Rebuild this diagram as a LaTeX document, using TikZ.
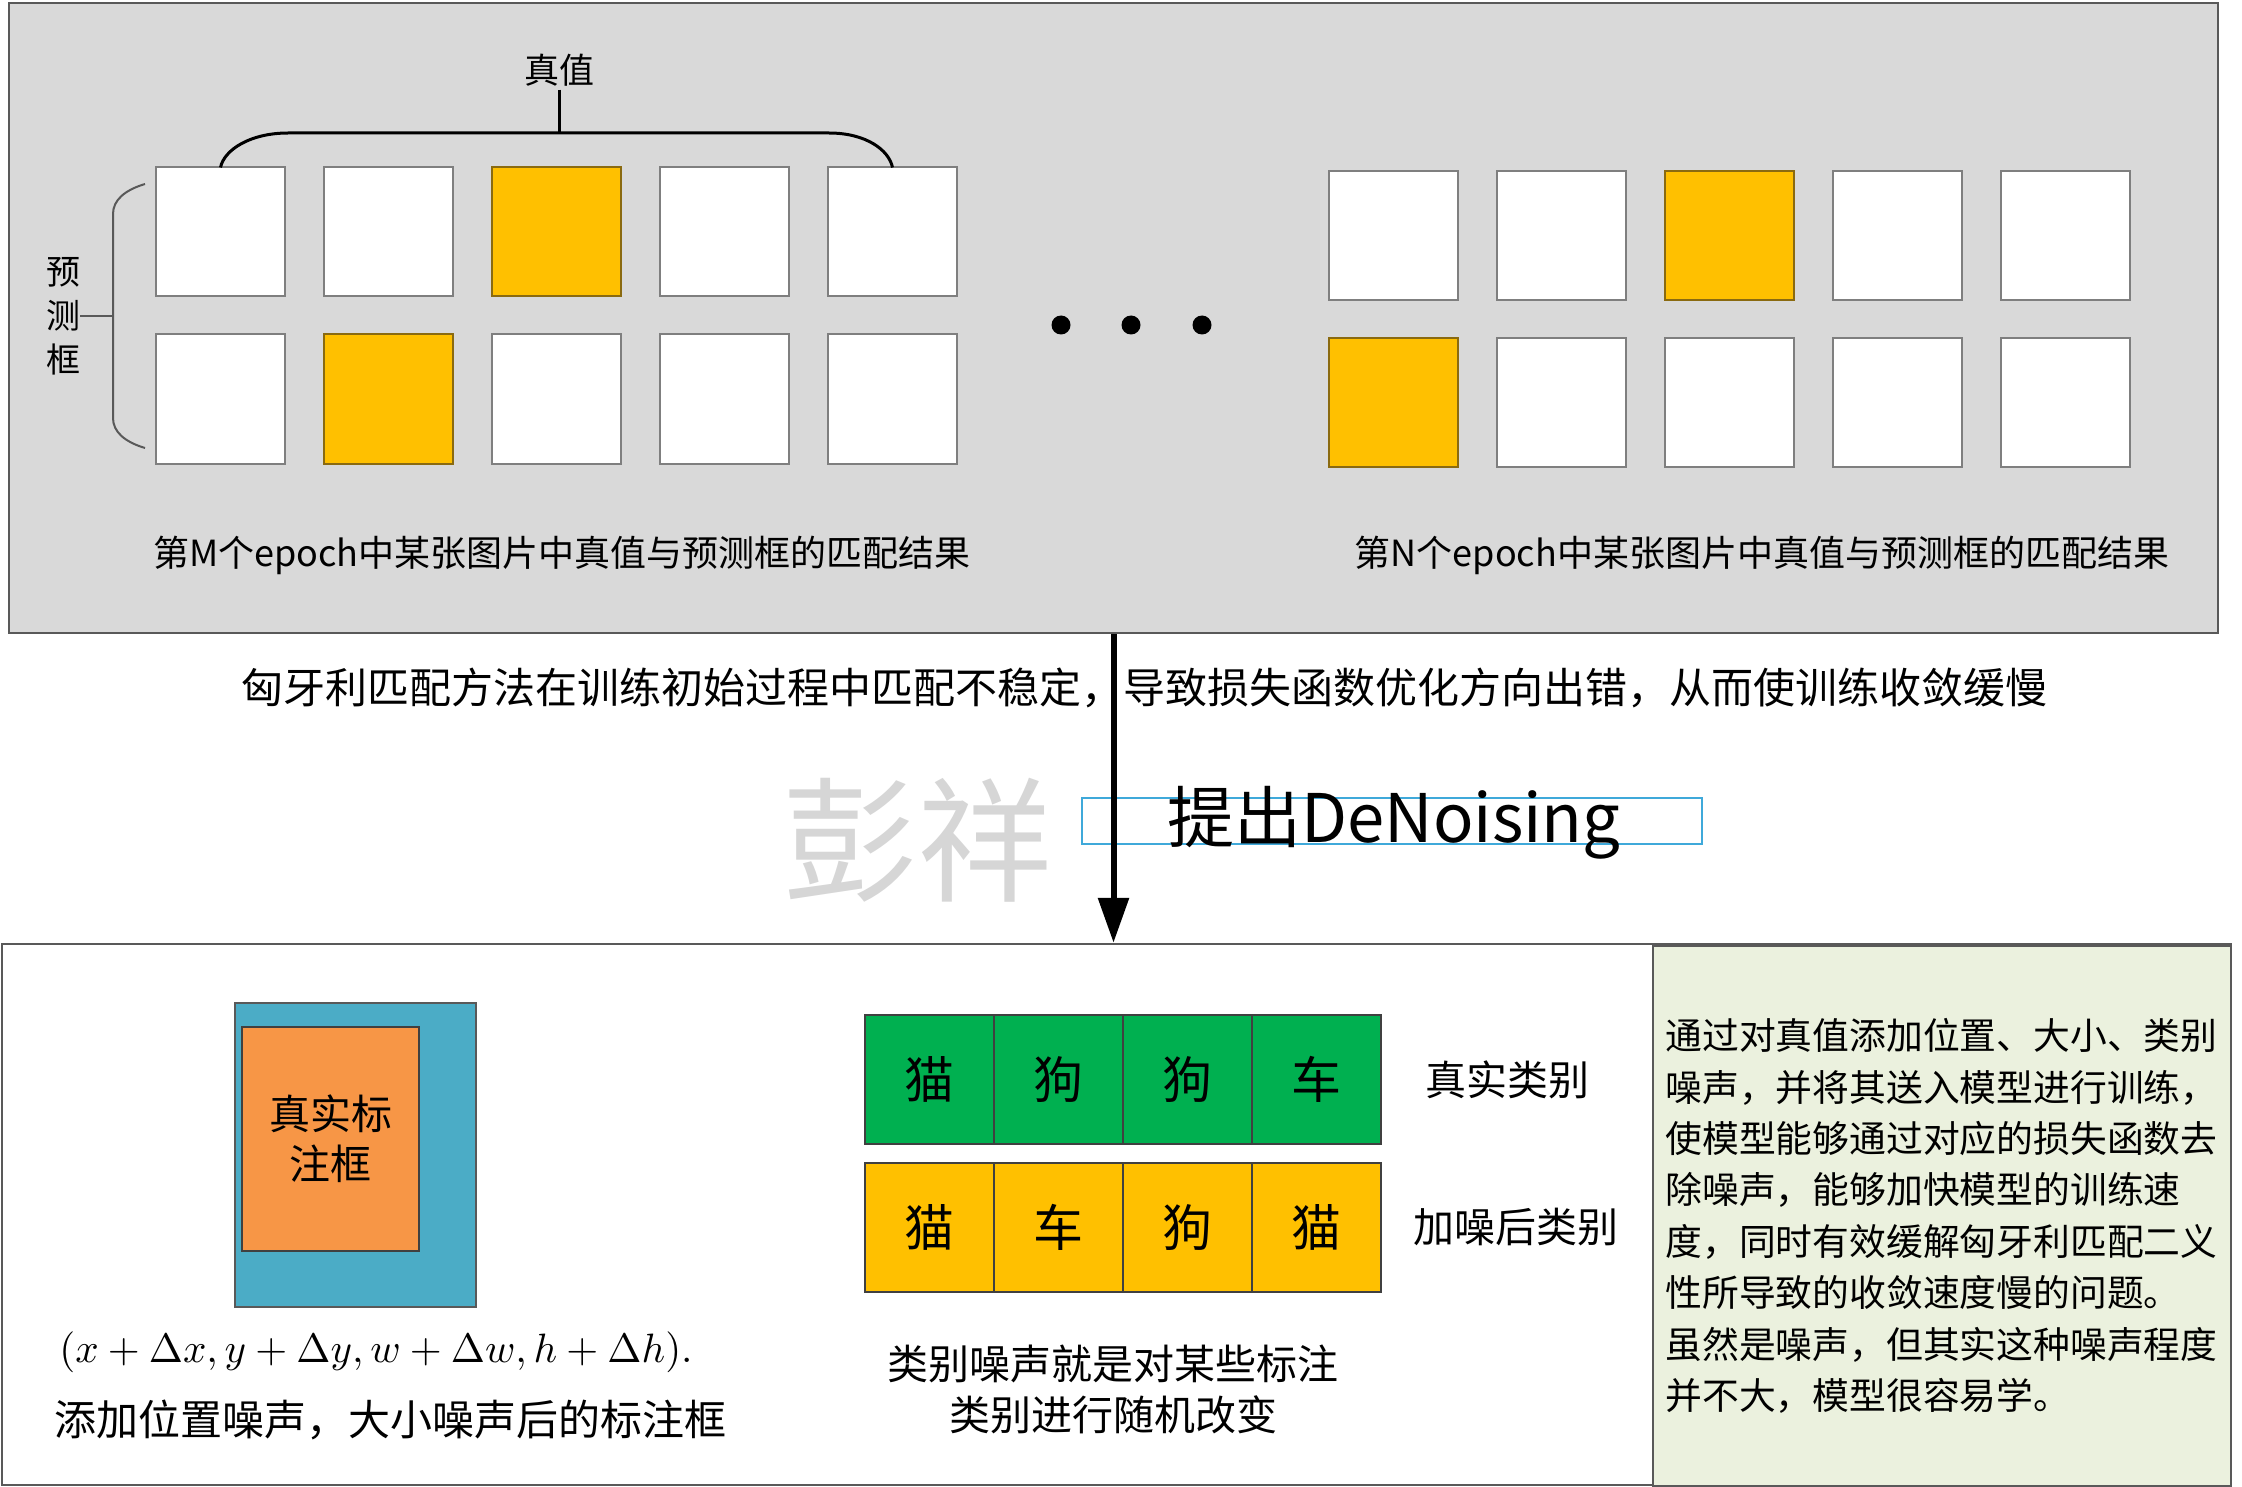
\documentclass[tikz,border=0pt]{standalone}
\usepackage[no-math]{fontspec}
\setmainfont{Noto Sans CJK SC}
\usetikzlibrary{arrows.meta,positioning}
\definecolor{ink}{HTML}{000000}
\definecolor{panelgray}{HTML}{D9D9D9}
\definecolor{edge}{HTML}{595959}
\definecolor{boxedge}{HTML}{7F7F7F}
\definecolor{hitfill}{HTML}{FFC000}
\definecolor{hitedge}{HTML}{8A6A10}
\definecolor{catgreen}{HTML}{00B050}
\definecolor{boxblue}{HTML}{4BACC6}
\definecolor{boxorange}{HTML}{F79646}
\definecolor{notebg}{HTML}{EBF1DE}
\definecolor{cyanline}{HTML}{3FA9DA}
\definecolor{wmgray}{HTML}{D6D6D6}
\newcommand{\setfs}[2]{\fontsize{#1pt}{#2pt}\selectfont}
\tikzset{
  >=Latex,
  every node/.style={text=ink},
  panel/.style={draw=edge,line width=2.5pt,fill=panelgray,inner sep=0pt},
  panelw/.style={panel,fill=white},
  cell/.style={draw=boxedge,line width=2pt,fill=white,inner sep=0pt,outer sep=0pt,minimum width=129pt,minimum height=129pt},
  hit/.style={cell,fill=hitfill,draw=hitedge},
  catcell/.style={draw=black!75,line width=1.5pt,inner sep=0pt,outer sep=0pt,minimum width=129pt,minimum height=129pt,font=\setfs{50}{60}},
  gtcat/.style={catcell,fill=catgreen},
  nzcat/.style={catcell,fill=hitfill},
  dotmark/.style={circle,fill=black,inner sep=0pt,minimum size=19pt},
  caption/.style={font=\setfs{36}{43},inner sep=0pt},
  lbl/.style={font=\setfs{41}{51},inner sep=0pt},
  bracel/.style={draw=black,line width=3pt},
  sidebrace/.style={draw=edge,line width=2pt},
  bigarrow/.style={-{Triangle[length=45pt,width=30pt]},line width=6pt,draw=black},
  propbox/.style={draw=cyanline,line width=2.5pt,inner sep=0pt},
  note/.style={draw=edge,line width=2.5pt,fill=notebg,inner sep=0pt,align=left,font=\setfs{36.8}{51.4}}
}
\begin{document}
\begin{tikzpicture}[x=1pt,y=-1pt,node distance=38pt and 39pt]
  \useasboundingbox (0,0) rectangle (2242,1487);

  % matching results of two epochs
  \node[panel,minimum width=2209pt,minimum height=630pt] (toppanel) at (1113.5,318) {};

  \node[cell] (ma1) at (220.5,232) {};
  \node[cell,right=of ma1] (ma2) {};
  \node[hit,right=of ma2] (ma3) {};
  \node[cell,right=of ma3] (ma4) {};
  \node[cell,right=of ma4] (ma5) {};
  \node[cell,below=of ma1] (mb1) {};
  \node[hit,right=of mb1] (mb2) {};
  \node[cell,right=of mb2] (mb3) {};
  \node[cell,right=of mb3] (mb4) {};
  \node[cell,right=of mb4] (mb5) {};

  \node[cell] (na1) at (1393.5,235.5) {};
  \node[cell,right=of na1] (na2) {};
  \node[hit,right=of na2] (na3) {};
  \node[cell,right=of na3] (na4) {};
  \node[cell,right=of na4] (na5) {};
  \node[hit,below=of na1] (nb1) {};
  \node[cell,right=of nb1] (nb2) {};
  \node[cell,right=of nb2] (nb3) {};
  \node[cell,right=of nb3] (nb4) {};
  \node[cell,right=of nb4] (nb5) {};

  \node[dotmark] (dot1) at (1061,325) {};
  \node[dotmark] (dot2) at (1131,325) {};
  \node[dotmark] (dot3) at (1202,325) {};

  \node[font=\setfs{35}{42}] (truth) at (559,70) {真值};
  \coordinate (bracemid) at (559,133);
  \draw[bracel] (ma1.north) .. controls (224,150) and (250,133) .. (288,133) -- (829,133)
    .. controls (866,133) and (889,150) .. (ma5.north);
  \draw[bracel] (truth) -- (bracemid);

  \node[font=\setfs{34}{44},align=center,inner sep=0pt] (pred) at (63,316) {预\\测\\框};
  \coordinate (predtip) at (113,316);
  \draw[sidebrace] (145,184) .. controls (125,190) and (113,200) .. (113,214) -- (113,418)
    .. controls (113,432) and (125,442) .. (145,448);
  \draw[sidebrace] (pred) -- (predtip);

  \node[caption] (capm) at (562,555) {第M个epoch中某张图片中真值与预测框的匹配结果};
  \node[caption] (capn) at (1762,555) {第N个epoch中某张图片中真值与预测框的匹配结果};

  % problem and proposal
  \node[font=\setfs{42}{50}] (reason) at (1144,688) {匈牙利匹配方法在训练初始过程中匹配不稳定，导致损失函数优化方向出错，从而使训练收敛缓慢};
  \node[text=wmgray,font=\setfs{135}{160}] (wmark) at (917,840) {彭祥};
  \node[propbox,minimum width=620pt,minimum height=46pt] (propose) at (1392,821) {};
  \node[font=\setfs{67}{78},inner sep=0pt] (proptext) at (1394,823) {提出DeNoising};

  % denoising
  \node[panelw,minimum width=2229pt,minimum height=541pt] (botpanel) at (1116.5,1214.5) {};
  \draw[bigarrow] (toppanel.south) -- (toppanel.south |- botpanel.north);

  \node[note,minimum width=578pt,minimum height=541pt,text width=553pt] (note) at (1942,1216) {通过对真值添加位置、大小、类别\\噪声，并将其送入模型进行训练，\\使模型能够通过对应的损失函数去\\除噪声，能够加快模型的训练速\\度，同时有效缓解匈牙利匹配二义\\性所导致的收敛速度慢的问题。\\虽然是噪声，但其实这种噪声程度\\并不大，模型很容易学。};

  \node[draw=edge,line width=1.5pt,fill=boxblue,inner sep=0pt,minimum width=241pt,minimum height=304pt] (noisy) at (355.5,1155) {};
  \node[draw=black!75,line width=1.5pt,fill=boxorange,inner sep=0pt,minimum width=177pt,minimum height=224pt,align=center,font=\setfs{41}{50}] (gtbox) at (330.5,1139) {真实标\\注框};
  \node[transform shape,scale=4.1] (formula) at (376,1352) {$(x+\Delta x,y+\Delta y,w+\Delta w,h+\Delta h).$};
  \node[font=\setfs{42}{50}] (noisecap) at (390,1420) {添加位置噪声，大小噪声后的标注框};

  \node[gtcat] (gt1) at (929.5,1079.5) {猫};
  \node[gtcat,right=0pt of gt1] (gt2) {狗};
  \node[gtcat,right=0pt of gt2] (gt3) {狗};
  \node[gtcat,right=0pt of gt3] (gt4) {车};
  \node[nzcat,below=19pt of gt1] (nz1) {猫};
  \node[nzcat,right=0pt of nz1] (nz2) {车};
  \node[nzcat,right=0pt of nz2] (nz3) {狗};
  \node[nzcat,right=0pt of nz3] (nz4) {猫};
  \node[lbl,right=44pt of gt4] (gtlbl) {真实类别};
  \node[lbl,right=32pt of nz4] (nzlbl) {加噪后类别};
  \node[lbl,align=center] (catnote) at (1113,1389) {类别噪声就是对某些标注\\类别进行随机改变};
\end{tikzpicture}
\end{document}
